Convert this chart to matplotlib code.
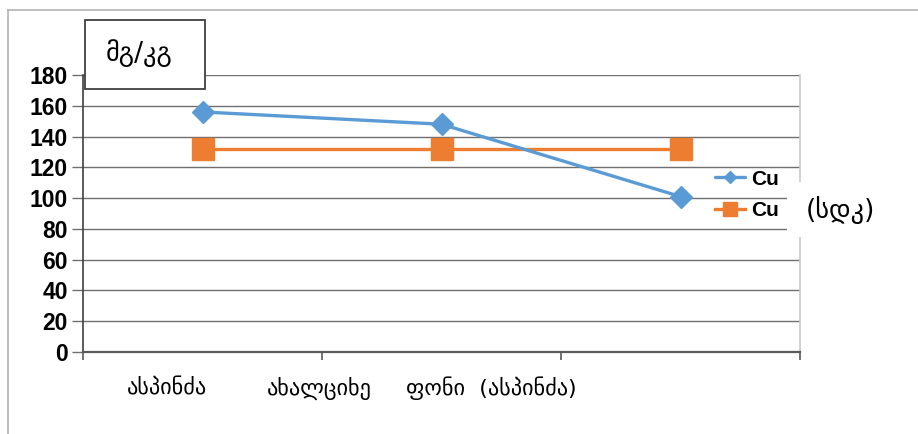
import matplotlib
matplotlib.use("Agg")

import matplotlib.pyplot as plt
import matplotlib.patches as mpatches
import matplotlib.transforms as mtransforms
from matplotlib.lines import Line2D

# Copper content per site, mg/kg
sites = ["ასპინძა", "ახალციხე", "ფონი  (ასპინძა)"]
cu_values = [156, 148, 101]
cu_limit = [132, 132, 132]   # permissible level (სდკ)
series_names = ["Cu", "Cu"]
y_ticks = [0, 20, 40, 60, 80, 100, 120, 140, 160, 180]
unit_label = "მგ/კგ"
limit_label = "(სდკ)"

# where the site names sit along the x axis (data units)
label_pos = [0.35, 0.99, 1.71]

BLUE = "#5b9bd5"
ORANGE = "#ed7d31"
GRID = "#6f6f6f"
AXIS = "#404040"
BORDER = "#b4b4b4"

NUM_FONT = "Liberation Sans"
GEO_FONT = "DejaVu Sans"

W, H = 918, 434
fig = plt.figure(figsize=(W / 100, H / 100), dpi=100, facecolor="white")

# outer chart frame (only top and left edges fall inside the image)
fig.add_artist(Line2D([8 / W, 1.0], [1 - 10 / H, 1 - 10 / H],
                      color=BORDER, lw=1.2, transform=fig.transFigure))
fig.add_artist(Line2D([8 / W, 8 / W], [0.0, 1 - 10 / H],
                      color=BORDER, lw=1.2, transform=fig.transFigure))

ax = fig.add_axes([83 / W, 1 - 352 / H, (800 - 83) / W, (352 - 75) / H])
ax.set_xlim(0, len(sites))
ax.set_ylim(0, 180)

x = [i + 0.5 for i in range(len(sites))]
ax.plot(x, cu_values, color=BLUE, lw=2.4, marker="D", ms=11,
        label=series_names[0], zorder=4, solid_capstyle="round")
ax.plot(x, cu_limit, color=ORANGE, lw=2.4, marker="s", ms=16.5,
        label=series_names[1], zorder=3)

# grid and spines
ax.set_yticks(y_ticks)
ax.yaxis.grid(True, color=GRID, lw=1.0)
ax.set_axisbelow(True)
ax.spines["top"].set_visible(False)
ax.spines["left"].set_color(AXIS)
ax.spines["left"].set_linewidth(1.2)
ax.spines["bottom"].set_color("#5a5a5a")
ax.spines["bottom"].set_linewidth(1.6)
ax.spines["right"].set_color("#c8c8c8")
ax.spines["right"].set_linewidth(1.2)

ax.tick_params(axis="y", direction="out", length=8, width=1.0, color=GRID,
               pad=3, labelsize=16.5)
for lbl in ax.get_yticklabels():
    lbl.set_fontfamily(NUM_FONT)
    lbl.set_fontweight("bold")

ax.set_xticks(range(len(sites) + 1))
ax.set_xticklabels([])
ax.tick_params(axis="x", direction="out", length=6, width=1.2, color="#5a5a5a")

# site names under the axis
trans = mtransforms.blended_transform_factory(ax.transData, fig.transFigure)
for pos, name in zip(label_pos, sites):
    ax.text(pos, 1 - 388 / H, name, transform=trans, ha="center", va="center",
            fontsize=16, family=GEO_FONT, color="black")

# legend without frame
leg = fig.legend(loc="center left", bbox_to_anchor=(715 / W, 1 - 195 / H),
                 frameon=False, fontsize=15, markerscale=0.6,
                 handlelength=1.45, handletextpad=0.3, labelspacing=0.6,
                 borderpad=0, borderaxespad=0)
for t in leg.get_texts():
    t.set_fontfamily(NUM_FONT)
    t.set_fontweight("bold")

# unit box in the top-left corner
fig.add_artist(mpatches.Rectangle((85 / W, 1 - 89 / H), 120 / W, 69 / H,
                                  transform=fig.transFigure, facecolor="white",
                                  edgecolor=AXIS, lw=1.3, zorder=5))
fig.text(139 / W, 1 - 53 / H, unit_label, ha="center", va="center",
         fontsize=19, family=GEO_FONT, zorder=6)

# box with the limit note next to the legend
fig.add_artist(mpatches.Rectangle((787 / W, 1 - 237 / H), (W - 787) / W, 55 / H,
                                  transform=fig.transFigure, facecolor="white",
                                  edgecolor="none", zorder=5))
fig.text(840 / W, 1 - 210 / H, limit_label, ha="center", va="center",
         fontsize=19, family=GEO_FONT, zorder=6)

fig.savefig("out.png", dpi=100, facecolor="white")
plt.close(fig)
